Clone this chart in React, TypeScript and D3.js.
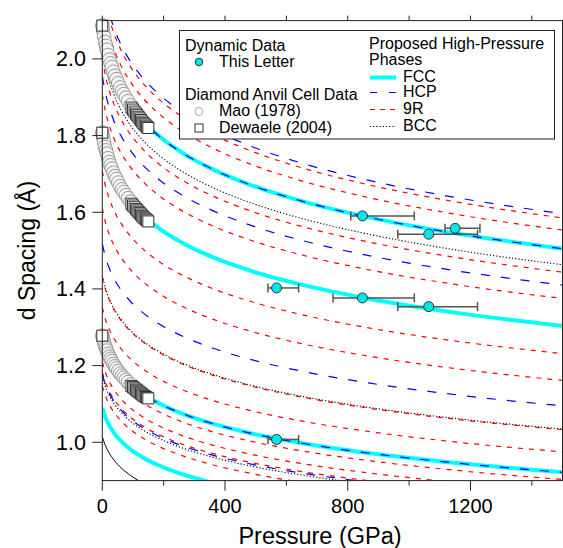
import React from "react";
import * as d3 from "d3";

// Shared compression table (d/d0 vs pressure)
const eosPressure = [0, 8.68, 20.97, 38.0, 61.26, 92.69, 134.76, 190.69, 264.6, 361.8, 489.3, 655.8, 872.9, 1155.4, 1522.5];
const eosRatio = [1.0, 0.98, 0.96, 0.94, 0.92, 0.9, 0.88, 0.86, 0.84, 0.82, 0.8, 0.78, 0.76, 0.74, 0.72];

// Ambient d-spacings of the proposed phases' reflections
const fccD0 = [2.087, 1.8075, 1.278, 1.09];
const fccStartP = [134, 134, 134, 0];
const hcpD0 = [2.2137, 2.087, 1.9556, 1.5185, 1.278, 1.178];
const r9D0 = [2.1983, 2.1545, 2.0022, 1.907, 1.7075, 1.6105, 1.4321, 1.3519, 1.2522, 1.2098, 1.1832, 1.1473];
const bccD0 = [2.029, 1.4348, 1.1715];
const solidD0 = [1.0145];

// Mao (1978)
const maoPressure = [0, 3, 6, 9, 12, 15, 19, 23, 27, 31, 36, 41, 46, 52, 58, 64, 70, 77, 84, 92];
const maoD111 = [2.087, 2.0726, 2.0582, 2.0442, 2.034, 2.0238, 2.0102, 1.9985, 1.9887, 1.9789, 1.9666, 1.9564, 1.9474, 1.9367, 1.9259, 1.9165, 1.9084, 1.8992, 1.8898, 1.8791];
const maoD200 = [1.8075, 1.795, 1.7826, 1.7704, 1.7616, 1.7527, 1.741, 1.7309, 1.7224, 1.7139, 1.7032, 1.6944, 1.6866, 1.6774, 1.6679, 1.6598, 1.6528, 1.6448, 1.6367, 1.6275];
const maoD220 = [1.278, 1.2692, 1.2604, 1.2518, 1.2455, 1.2393, 1.231, 1.2238, 1.2178, 1.2118, 1.2043, 1.198, 1.1925, 1.186, 1.1793, 1.1736, 1.1686, 1.163, 1.1572, 1.1507];

// Dewaele (2004)
const dewPressure = [0, 95, 100, 105, 110, 114, 118, 122, 126, 130, 134, 138, 142, 146, 150];
const dewD111 = [2.087, 1.8731, 1.8679, 1.8626, 1.8574, 1.8533, 1.8491, 1.8449, 1.8407, 1.8366, 1.8324, 1.8293, 1.8261, 1.823, 1.8199];
const dewD200 = [1.8075, 1.6222, 1.6177, 1.6132, 1.6087, 1.6051, 1.6014, 1.5978, 1.5942, 1.5906, 1.587, 1.5843, 1.5816, 1.5789, 1.5761];
const dewD220 = [1.278, 1.147, 1.1438, 1.1406, 1.1374, 1.1349, 1.1323, 1.1298, 1.1272, 1.1246, 1.1221, 1.1201, 1.1181, 1.1162, 1.1144];

// This Letter
const letterPressure = [568, 848, 1064, 568, 848, 1064, 1150];
const letterD = [1.4026, 1.3765, 1.3538, 1.0073, 1.5905, 1.5428, 1.558];
const letterPLow = [540, 752, 963, 540, 810, 963, 1117];
const letterPHigh = [640, 1017, 1223, 640, 1017, 1223, 1231];

const xTicks = [0, 400, 800, 1200];
const xMinor = [200, 600, 1000, 1400];
const yTicks = [1.0, 1.2, 1.4, 1.6, 1.8, 2.0];

const W = 563, H = 548;
const FONT = "'Liberation Sans', Arial, Helvetica, sans-serif";

export default function App() {
  const x = d3.scaleLinear().domain([0, 1500]).range([102.3, 562.5]);
  const y = d3.scaleLinear().domain([0.9, 2.1]).range([480.6, 20.6]);
  const x0 = x(0), x1 = x(1500), y0 = y(0.9), y1 = y(2.1);

  const line = d3
    .line<[number, number]>()
    .x((d) => x(d[0]))
    .y((d) => y(d[1]))
    .curve(d3.curveMonotoneX);

  const curve = (d0: number, startP = 0) =>
    line(
      eosPressure
        .map((p, i) => [p, d0 * eosRatio[i]] as [number, number])
        .filter((d) => d[0] >= startP)
    ) || "";

  const legLine = (yy: number) => `M370,${yy}L396,${yy}`;

  return (
    <svg width={W} height={H} style={{ position: "absolute", left: 0, top: 0, background: "#fff" }} fontFamily={FONT}>
      <defs>
        <clipPath id="plot">
          <rect x={x0} y={y1} width={x1 - x0} height={y0 - y1} />
        </clipPath>
      </defs>
      <rect x={0} y={0} width={W} height={H} fill="#fff" />
      <g clipPath="url(#plot)" fill="none">
        {fccD0.map((d0, i) => (
          <path key={"f" + i} d={curve(d0, fccStartP[i])} stroke="#00ffff" strokeWidth={4} />
        ))}
        {solidD0.map((d0, i) => (
          <path key={"s" + i} d={curve(d0)} stroke="#000" strokeWidth={1} />
        ))}
        {bccD0.map((d0, i) => (
          <path key={"b" + i} d={curve(d0)} stroke="#000" strokeWidth={1.1} strokeDasharray="1.2,2" />
        ))}
        {r9D0.map((d0, i) => (
          <path key={"r" + i} d={curve(d0)} stroke="#ff0000" strokeWidth={1.2} strokeDasharray="5,6" />
        ))}
        {hcpD0.map((d0, i) => (
          <path key={"h" + i} d={curve(d0)} stroke="#0000ff" strokeWidth={1.2} strokeDasharray="9,11" />
        ))}
      </g>
      {/* Mao circles */}
      {[maoD111, maoD200, maoD220].map((arr, k) =>
        arr.map((d, i) => (
          <circle key={`m${k}-${i}`} cx={x(maoPressure[i])} cy={y(d)} r={6.8} fill="#f4f4f4" stroke="#999" strokeWidth={1} />
        ))
      )}
      {/* Dewaele squares */}
      {[dewD111, dewD200, dewD220].map((arr, k) =>
        arr.map((d, i) => (
          <rect key={`d${k}-${i}`} x={x(dewPressure[i]) - 5.5} y={y(d) - 5.5} width={11} height={11} fill="#fff" stroke="#333" strokeWidth={1} />
        ))
      )}
      {/* This Letter */}
      {letterPressure.map((p, i) => {
        const cy = y(letterD[i]);
        return (
          <g key={"l" + i} stroke="#555" strokeWidth={1.5}>
            <line x1={x(letterPLow[i])} x2={x(letterPHigh[i])} y1={cy} y2={cy} />
            <line x1={x(letterPLow[i])} x2={x(letterPLow[i])} y1={cy - 4.5} y2={cy + 4.5} />
            <line x1={x(letterPHigh[i])} x2={x(letterPHigh[i])} y1={cy - 4.5} y2={cy + 4.5} />
          </g>
        );
      })}
      {letterPressure.map((p, i) => (
        <circle key={"lc" + i} cx={x(p)} cy={y(letterD[i])} r={5} fill="#00e5e5" stroke="#333" strokeWidth={1} />
      ))}
      {/* Frame */}
      <rect x={x0} y={y1} width={x1 - x0} height={y0 - y1} fill="none" stroke="#222" strokeWidth={1} />
      {/* Bottom axis */}
      {xTicks.map((t) => (
        <g key={"xt" + t}>
          <line x1={x(t)} x2={x(t)} y1={y0} y2={y0 + 10} stroke="#222" />
          <text x={x(t)} y={513} fontSize={20} textAnchor="middle">{t}</text>
        </g>
      ))}
      {xMinor.map((t) => (
        <line key={"xm" + t} x1={x(t)} x2={x(t)} y1={y0} y2={y0 + 5} stroke="#222" />
      ))}
      {[...xTicks, ...xMinor].map((t) => (
        <line key={"xtop" + t} x1={x(t)} x2={x(t)} y1={y1} y2={y1 - 5} stroke="#222" />
      ))}
      {yTicks.map((t) => (
        <g key={"yt" + t}>
          <line x1={x0 - 10} x2={x0} y1={y(t)} y2={y(t)} stroke="#222" />
          <text x={86} y={y(t) + 7.5} fontSize={21.5} textAnchor="end">{t.toFixed(1)}</text>
        </g>
      ))}
      <text x={320} y={544} fontSize={23.5} textAnchor="middle">Pressure (GPa)</text>
      <text transform={`translate(35,${(y0 + y1) / 2}) rotate(-90)`} fontSize={23} textAnchor="middle">d Spacing (Å)</text>
      {/* Legend */}
      <rect x={179.5} y={30.5} width={375} height={108.5} fill="#fff" stroke="#222" strokeWidth={1} />
      <g fontSize={16}>
        <text x={185} y={50.5}>Dynamic Data</text>
        <circle cx={199} cy={62} r={3.8} fill="#00e5e5" stroke="#333" />
        <text x={219} y={67}>This Letter</text>
        <text x={185} y={100}>Diamond Anvil Cell Data</text>
        <circle cx={199} cy={111.5} r={4} fill="#fff" stroke="#aaa" />
        <text x={219} y={116}>Mao (1978)</text>
        <rect x={195} y={124} width={8} height={8} fill="#fff" stroke="#333" />
        <text x={219} y={133}>Dewaele (2004)</text>
        <text x={369} y={48.5}>Proposed High-Pressure</text>
        <text x={369} y={65}>Phases</text>
        <path d={legLine(77.5)} stroke="#00ffff" strokeWidth={4} />
        <text x={403} y={82}>FCC</text>
        <path d={legLine(92.5)} stroke="#0000ff" strokeWidth={1.2} strokeDasharray="7,12" />
        <text x={403} y={97}>HCP</text>
        <path d={legLine(109.5)} stroke="#ff0000" strokeWidth={1.2} strokeDasharray="5,5" />
        <text x={403} y={113.5}>9R</text>
        <path d={legLine(126.5)} stroke="#000" strokeWidth={1} strokeDasharray="1.2,2" />
        <text x={403} y={131}>BCC</text>
      </g>
    </svg>
  );
}
